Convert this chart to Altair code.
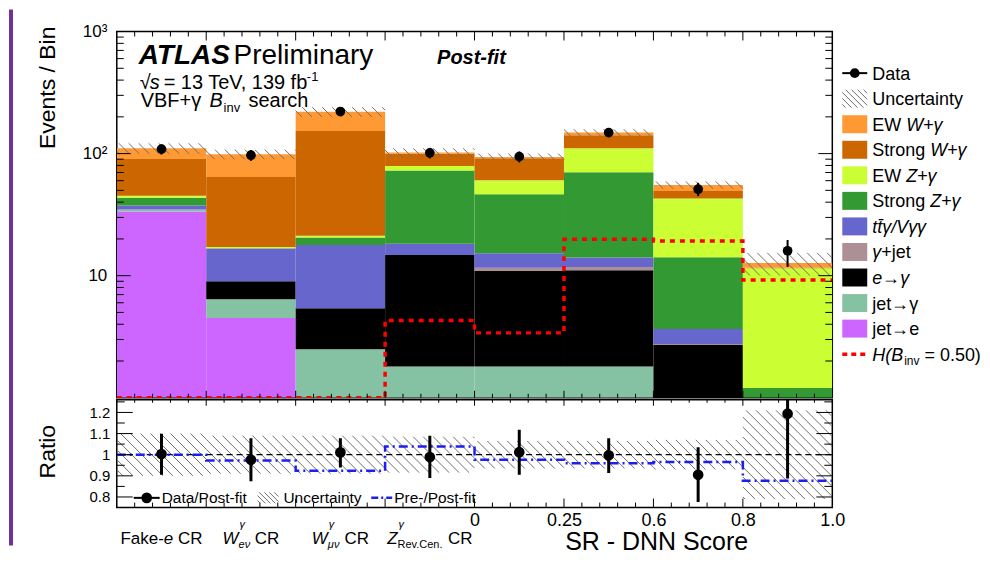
import math
import pandas as pd
import altair as alt

FONT = "Liberation Sans"

# ---------------- data ----------------
cr_names = ["Fake-e CR", "W_ev CR", "W_muv CR", "Z_RevCen CR"]
sr_tick_values = [4, 5, 6, 7, 8]
sr_tick_labels = ["0", "0.25", "0.6", "0.8", "1.0"]

# stack order: bottom -> top
process_names = ["jet→e", "jet→γ", "e→γ", "γ+jet", "tt̄γ/Vγγ",
                 "Strong Z+γ", "EW Z+γ", "Strong W+γ", "EW W+γ"]
process_colors = ["#CC66FF", "#85C1A3", "#000000", "#AD8F96", "#6666CC",
                  "#339933", "#CCFF33", "#CC6600", "#FF9933"]

jet_to_e   = [33.5, 4.5, 0.0, 0.0, 0.0, 0.0, 0.0, 0.0]
jet_to_gam = [1.1, 1.9, 2.5, 1.8, 1.8, 1.8, 0.0, 0.0]
e_to_gam   = [0.0, 2.6, 2.9, 13.0, 9.1, 9.3, 2.7, 0.0]
gam_jet    = [0.3, 0.0, 0.0, 0.0, 0.7, 0.7, 0.06, 0.0]
ttg_vgg    = [2.6, 7.7, 12.4, 3.5, 3.7, 2.3, 0.9, 0.0]
strong_zg  = [5.9, 0.1, 2.7, 54.3, 31.2, 56.3, 10.5, 1.2]
ew_zg      = [1.7, 0.4, 0.7, 6.7, 14.0, 40.3, 28.7, 10.3]
strong_wg  = [45.2, 47.1, 132.3, 20.2, 31.2, 30.8, 6.6, 0.1]
ew_wg      = [20.2, 34.5, 66.3, 2.4, 2.3, 7.1, 5.9, 1.1]
process_values = [jet_to_e, jet_to_gam, e_to_gam, gam_jet, ttg_vgg,
                  strong_zg, ew_zg, strong_wg, ew_wg]

data_events    = [108.7, 97.0, 221.0, 101.4, 94.4, 148.6, 51.1, 16.0]
data_events_lo = [98.3, 87.2, 206.1, 91.4, 84.7, 136.4, 44.9, 11.8]
data_events_hi = [119.1, 106.8, 235.9, 111.4, 104.1, 160.8, 57.6, 19.6]

signal_h050 = [1.0, 1.0, 1.0, 4.3, 3.4, 19.9, 19.2, 9.2]

ratio_data = [1.003, 0.976, 1.011, 0.989, 1.012, 0.997, 0.905, 1.194]
ratio_lo   = [0.905, 0.874, 0.940, 0.890, 0.905, 0.913, 0.776, 0.887]
ratio_hi   = [1.099, 1.078, 1.078, 1.090, 1.118, 1.078, 1.035, 1.500]
unc_rel    = [0.10, 0.09, 0.09, 0.085, 0.065, 0.065, 0.07, 0.21]
pre_post   = [1.000, 0.972, 0.924, 1.039, 0.976, 0.960, 0.965, 0.877]

# ---------------- layout constants ----------------
W, H, HR = 717, 367, 108
NB = 8
PXU = W / NB
YMIN, YMAX = 1.0, 1000.0
RMIN, RMAX = 0.75, 1.26
LMIN, LMAX = math.log10(YMIN), math.log10(YMAX)


def ymain_val(p):
    return 10 ** (LMAX - p / H * (LMAX - LMIN))


def ymain_pix(v):
    return H * (LMAX - math.log10(v)) / (LMAX - LMIN)


def yrat_val(p):
    return RMAX - p / HR * (RMAX - RMIN)


def yrat_pix(r):
    return (RMAX - r) / (RMAX - RMIN) * HR


def hatch_segments(x0, x1, y0, y1, step):
    out = []
    k0 = math.ceil((x0 - y1) / step)
    k1 = math.floor((x1 - y0) / step)
    for k in range(k0, k1 + 1):
        c = k * step
        a = max(x0, y0 + c)
        b = min(x1, y1 + c)
        if b - a > 0.8:
            out.append((a, a - c, b, b - c))
    return out


AW = {' ': 278, '!': 278, '(': 333, ')': 333, '+': 584, ',': 278, '-': 333, '.': 278,
      '/': 278, '=': 584, 'A': 667, 'B': 667, 'C': 722, 'D': 722, 'E': 667, 'F': 611,
      'H': 722, 'L': 556, 'N': 722, 'P': 667, 'R': 722, 'S': 667, 'T': 611, 'V': 667,
      'W': 944, 'Z': 611, 'a': 556, 'b': 556, 'c': 500, 'e': 556, 'f': 278, 'g': 556,
      'i': 222, 'j': 222, 'k': 500, 'l': 222, 'm': 833, 'n': 556, 'o': 556, 'r': 333,
      's': 500, 't': 278, 'u': 556, 'v': 500, 'y': 500, 'γ': 500, 'ν': 500, 'μ': 576,
      '\u0304': 0}


def tw(s, size):
    return sum(AW.get(ch, 556) for ch in s) * size / 1000.0


def lead_shift(s, size):
    # SVG drops leading spaces, so shift the text instead
    n = len(s) - len(s.lstrip(" "))
    return n * 0.278 * size, s.lstrip(" ")


# ---------------- scales / axes ----------------
xs = alt.Scale(domain=[0, NB], nice=False, zero=False)
ysm = alt.Scale(type="log", domain=[YMIN, YMAX], nice=False, clamp=True)
ysr = alt.Scale(domain=[RMIN, RMAX], nice=False, zero=False, clamp=True)

ax_my = alt.Axis(values=[10, 100, 1000],
                 labelExpr="datum.value < 50 ? '10' : (datum.value < 500 ? '10²' : '10³')",
                 ticks=False, tickSize=0, domain=False, grid=False, labelPadding=10,
                 labelFontSize=17, title=None, labelColor="black", labelFont=FONT)
lab_arr = "[" + ",".join("'" + s + "'" for s in sr_tick_labels) + "]"
ax_rx = alt.Axis(values=sr_tick_values,
                 labelExpr=lab_arr + "[round(datum.value) - 4]",
                 ticks=False, tickSize=0, domain=False, grid=False, labelPadding=4,
                 labelFontSize=18, title=None, labelFlush=False, labelOverlap=False,
                 labelColor="black", labelFont=FONT)
ax_ry = alt.Axis(values=[0.8, 0.9, 1.0, 1.1, 1.2],
                 labelExpr="abs(datum.value - 1) < 0.001 ? '1' : format(datum.value, '.1f')",
                 ticks=False, tickSize=0, domain=False, grid=False, labelPadding=7,
                 labelFontSize=15, title=None, labelColor="black", labelFont=FONT)


def MX(f):
    return alt.X(f, type="quantitative", scale=xs, axis=None)


def MY(f):
    return alt.Y(f, type="quantitative", scale=ysm, axis=ax_my)


def RX(f):
    return alt.X(f, type="quantitative", scale=xs, axis=ax_rx)


def RY(f):
    return alt.Y(f, type="quantitative", scale=ysr, axis=ax_ry)


def PXC(f):
    return alt.X(f, type="quantitative", scale=None)


def PYC(f):
    return alt.Y(f, type="quantitative", scale=None)


one = pd.DataFrame({"k": [0]})


def text_at(txt, x, y, size, style="normal", weight="normal", align="left",
            baseline="alphabetic", angle=0, color="black"):
    return alt.Chart(one).mark_text(
        text=txt, fontSize=size, fontStyle=style, fontWeight=weight, align=align,
        baseline=baseline, angle=angle, color=color, font=FONT
    ).encode(x=alt.value(x), y=alt.value(y))


def tick_rules_y(vals, ych, x0, x1):
    return alt.Chart(pd.DataFrame({"t": vals})).mark_rule(color="black", strokeWidth=1).encode(
        y=ych("t"), x=alt.value(x0), x2=alt.value(x1))


def tick_rules_x(vals, xch, y0, y1):
    return alt.Chart(pd.DataFrame({"t": vals})).mark_rule(color="black", strokeWidth=1).encode(
        x=xch("t"), y=alt.value(y0), y2=alt.value(y1))


# ---------------- derived tables ----------------
stack_rows = []
totals = []
for b in range(NB):
    cum = 0.0
    for name, vals in zip(process_names, process_values):
        lo = cum
        cum += vals[b]
        if vals[b] > 0:
            stack_rows.append(dict(x0=b, x1=b + 1, lo=max(lo, 0.5), hi=max(cum, 0.5), proc=name))
    totals.append(cum)
stack_df = pd.DataFrame(stack_rows)

hm_rows = []
hr_rows = []
for b in range(NB):
    X0, X1 = b * PXU, (b + 1) * PXU
    Y0 = ymain_pix(totals[b] * (1 + unc_rel[b]))
    Y1 = ymain_pix(totals[b] * (1 - unc_rel[b]))
    for a, pa, c, pc in hatch_segments(X0, X1, Y0, Y1, 10.0):
        hm_rows.append(dict(xa=a / PXU, ya=ymain_val(pa), xb=c / PXU, yb=ymain_val(pc)))
    Y0 = yrat_pix(1 + unc_rel[b])
    Y1 = yrat_pix(1 - unc_rel[b])
    for a, pa, c, pc in hatch_segments(X0, X1, Y0, Y1, 10.0):
        hr_rows.append(dict(xa=a / PXU, ya=yrat_val(pa), xb=c / PXU, yb=yrat_val(pc)))
hm_df = pd.DataFrame(hm_rows)
hr_df = pd.DataFrame(hr_rows)

edges = list(range(NB + 1))
h_df = pd.DataFrame({"e": edges, "h": signal_h050 + [signal_h050[-1]]})
pp_df = pd.DataFrame({"e": edges, "r": pre_post + [pre_post[-1]]})
pts_df = pd.DataFrame({"xc": [b + 0.5 for b in range(NB)], "v": data_events,
                       "lo": data_events_lo, "hi": data_events_hi,
                       "r": ratio_data, "rlo": ratio_lo, "rhi": ratio_hi})
one_df = pd.DataFrame({"x0": [0], "x1": [NB], "r": [1.0]})

x_major = [1, 2, 3, 4, 5, 6, 7]
x_minor = [b + j * 0.2 for b in range(NB) for j in range(1, 5)]
y_major = [10, 100]
y_minor = [m * 10 ** d for d in range(0, 3) for m in range(2, 10)]
r_major = [0.8, 0.9, 1.0, 1.1, 1.2]
r_minor = [0.85, 0.95, 1.05, 1.15, 1.25]

# ---------------- main panel ----------------
main_layers = []
main_layers.append(alt.Chart(stack_df).mark_rect(clip=True).encode(
    x=MX("x0"), x2="x1", y=MY("lo"), y2="hi",
    color=alt.Color("proc:N", scale=alt.Scale(domain=process_names, range=process_colors), legend=None)))
main_layers.append(alt.Chart(hm_df).mark_rule(color="#6E6E6E", strokeWidth=1, clip=True).encode(
    x=MX("xa"), y=MY("ya"), x2="xb", y2="yb"))
main_layers.append(alt.Chart(h_df).mark_line(interpolate="step-after", color="#FF0000",
                                             strokeDash=[5, 5], strokeWidth=3.5, clip=True).encode(
    x=MX("e"), y=MY("h")))
main_layers += [
    tick_rules_y(y_major, MY, 0, 14), tick_rules_y(y_minor, MY, 0, 7),
    tick_rules_y(y_major, MY, W, W - 14), tick_rules_y(y_minor, MY, W, W - 7),
    tick_rules_x(x_major, MX, 0, 9), tick_rules_x(x_minor, MX, 0, 5),
    tick_rules_x(x_major, MX, H, H - 7), tick_rules_x(x_minor, MX, H, H - 4),
]
main_layers.append(alt.Chart(pts_df).mark_rule(color="black", strokeWidth=2).encode(
    x=MX("xc"), y=MY("lo"), y2="hi"))
main_layers.append(alt.Chart(pts_df).mark_circle(size=95, color="black", opacity=1).encode(
    x=MX("xc"), y=MY("v")))

# texts in the plot
lumi_txt = "= 13 TeV, 139 fb"
main_layers += [
    text_at("ATLAS", 22, 33, 28, style="italic", weight="bold"),
    text_at("Preliminary", 117, 33, 28),
    text_at("Post-fit", 321, 33, 20, style="italic", weight="bold"),
    text_at("√", 23, 58, 20),
    text_at("s", 33, 58, 20, style="italic"),
    text_at(lumi_txt, 47, 58, 20),
    text_at("-1", 47 + tw(lumi_txt, 20) - 5, 50, 13),
    text_at("VBF+γ", 24, 76, 20),
    text_at("B", 93, 76, 20, style="italic"),
    text_at("inv", 107, 81, 13),
    text_at("search", 132, 76, 20),
    text_at("Events / Bin", -69, -5, 23, align="right", baseline="middle", angle=270),
]

# legend (pixel coordinates)
LS0, LS1, LLAB = 727, 752, 757
row_y = [41.7 + 25.6 * i for i in range(12)]
leg_labels = [
    [("Data", "n")],
    [("Uncertainty", "n")],
    [("EW ", "n"), ("W+γ", "i")],
    [("Strong ", "n"), ("W+γ", "i")],
    [("EW ", "n"), ("Z+γ", "i")],
    [("Strong ", "n"), ("Z+γ", "i")],
    [("tt̄γ/Vγγ", "i")],
    [("γ", "i"), ("+jet", "n")],
    [("e→γ", "i")],
    [("jet→γ", "n")],
    [("jet→e", "n")],
    [("H(B", "i"), ("inv", "sub"), (" = 0.50)", "n")],
]
lt_rows = []
for i, pieces in enumerate(leg_labels):
    x = LLAB
    for txt, kind in pieces:
        if kind == "sub":
            lt_rows.append(dict(px=x + 1, py=row_y[i] + 11, txt=txt, kind=kind))
            x += tw(txt, 12) + 1
        else:
            sh, t2 = lead_shift(txt, 18)
            lt_rows.append(dict(px=x + sh, py=row_y[i] + 6.5, txt=t2, kind=kind))
            x += tw(txt, 18)
lt_df = pd.DataFrame(lt_rows)
for kind, size, style in [("n", 18, "normal"), ("i", 18, "italic"), ("sub", 12, "normal")]:
    main_layers.append(alt.Chart(lt_df[lt_df.kind == kind]).mark_text(
        align="left", baseline="alphabetic", fontSize=size, fontStyle=style, font=FONT, color="black"
    ).encode(x=PXC("px"), y=PYC("py"), text="txt:N"))

sw_rows = []
for j, name in enumerate(reversed(process_names)):
    i = j + 2
    sw_rows.append(dict(px0=LS0, px1=LS1, py0=row_y[i] - 9, py1=row_y[i] + 9,
                        col=process_colors[len(process_names) - 1 - j]))
main_layers.append(alt.Chart(pd.DataFrame(sw_rows)).mark_rect().encode(
    x=PXC("px0"), x2="px1", y=PYC("py0"), y2="py1", color=alt.Color("col:N", scale=None)))
lh_df = pd.DataFrame([dict(a=a, pa=pa, b=c, pb=pc) for a, pa, c, pc in
                      hatch_segments(LS0, LS1, row_y[1] - 9, row_y[1] + 9, 6.0)])
main_layers.append(alt.Chart(lh_df).mark_rule(color="#6E6E6E", strokeWidth=1).encode(
    x=PXC("a"), y=PYC("pa"), x2="b", y2="pb"))
main_layers.append(alt.Chart(one).mark_rule(color="black", strokeWidth=2).encode(
    x=alt.value(LS0), x2=alt.value(LS1), y=alt.value(row_y[0])))
main_layers.append(alt.Chart(one).mark_circle(size=95, color="black", opacity=1).encode(
    x=alt.value((LS0 + LS1) / 2), y=alt.value(row_y[0])))
main_layers.append(alt.Chart(one).mark_rule(color="#FF0000", strokeWidth=3.5, strokeDash=[5, 4]).encode(
    x=alt.value(LS0), x2=alt.value(LS1), y=alt.value(row_y[11])))

# slide frame (left purple stripe)
main_layers.append(alt.Chart(one).mark_rect(color="#7030A0").encode(
    x=alt.value(-108), x2=alt.value(-104), y=alt.value(-22), y2=alt.value(515)))

main = alt.layer(*main_layers).properties(width=W, height=H)

# ---------------- ratio panel ----------------
rl = []
rl.append(alt.Chart(hr_df).mark_rule(color="#6E6E6E", strokeWidth=1, clip=True).encode(
    x=RX("xa"), y=RY("ya"), x2="xb", y2="yb"))
rl.append(alt.Chart(one_df).mark_rule(color="black", strokeWidth=1.2, strokeDash=[6, 4]).encode(
    x=RX("x0"), x2="x1", y=RY("r")))
rl.append(alt.Chart(pp_df).mark_line(interpolate="step-after", color="#1E1EF0",
                                     strokeDash=[9, 4, 2, 4], strokeWidth=2.5, clip=True).encode(
    x=RX("e"), y=RY("r")))
rl += [
    tick_rules_y(r_major, RY, 0, 16), tick_rules_y(r_minor, RY, 0, 8),
    tick_rules_y(r_major, RY, W, W - 16), tick_rules_y(r_minor, RY, W, W - 8),
    tick_rules_x(x_major, RX, 0, 6), tick_rules_x(x_minor, RX, 0, 3),
    tick_rules_x(x_major, RX, HR, HR - 9), tick_rules_x(x_minor, RX, HR, HR - 5),
]
rl.append(alt.Chart(pts_df).mark_rule(color="black", strokeWidth=3, clip=True).encode(
    x=RX("xc"), y=RY("rlo"), y2="rhi"))
rl.append(alt.Chart(pts_df).mark_circle(size=115, color="black", opacity=1).encode(
    x=RX("xc"), y=RY("r")))

# ratio legend
RLY = 98.3
rl.append(alt.Chart(one).mark_rule(color="black", strokeWidth=2).encode(
    x=alt.value(17), x2=alt.value(43), y=alt.value(RLY)))
rl.append(alt.Chart(one).mark_circle(size=115, color="black", opacity=1).encode(
    x=alt.value(30), y=alt.value(RLY)))
rh_df = pd.DataFrame([dict(a=a, pa=pa, b=c, pb=pc) for a, pa, c, pc in
                      hatch_segments(141, 162, RLY - 5.5, RLY + 5.5, 5.0)])
rl.append(alt.Chart(rh_df).mark_rule(color="#6E6E6E", strokeWidth=1).encode(
    x=PXC("a"), y=PYC("pa"), x2="b", y2="pb"))
rl.append(alt.Chart(one).mark_rule(color="#1E1EF0", strokeWidth=2.5, strokeDash=[7, 3, 2, 3]).encode(
    x=alt.value(255), x2=alt.value(276), y=alt.value(RLY)))
rl += [
    text_at("Data/Post-fit", 45, RLY + 5.5, 15.5),
    text_at("Uncertainty", 167, RLY + 5.5, 15.5),
    text_at("Pre-/Post-fit", 278, RLY + 5.5, 15.5),
]

# category labels below the control-region bins
cat_pieces = [
    [("Fake-", "n"), ("e", "i"), (" CR", "n")],
    [("W", "i"), ("γ", "sup"), ("eν", "subi"), (" CR", "n")],
    [("W", "i"), ("γ", "sup"), ("μν", "subi"), (" CR", "n")],
    [("Z", "i"), ("γ", "sup"), ("Rev.Cen.", "sub"), (" CR", "n")],
]
CS, SS = 17, 11
CB = 145
for b, pieces in enumerate(cat_pieces):
    total = sum(tw(t, SS if k in ("sub", "subi") else CS) for t, k in pieces if k != "sup")
    x = (b + 0.5) * PXU - total / 2
    for t, k in pieces:
        if k == "sup":
            rl.append(text_at(t, x + 1, CB - 16, SS, style="italic"))
        elif k in ("sub", "subi"):
            rl.append(text_at(t, x, CB + 4, SS, style="italic" if k == "subi" else "normal"))
            x += tw(t, SS)
        else:
            sh, t2 = lead_shift(t, CS)
            rl.append(text_at(t2, x + sh, CB, CS, style="italic" if k == "i" else "normal"))
            x += tw(t, CS)

rl.append(text_at("SR - DNN Score", 541, 151, 25, align="center"))
rl.append(text_at("Ratio", -69, 52, 23, align="center", baseline="middle", angle=270))

ratio = alt.layer(*rl).properties(width=W, height=HR)

chart = alt.vconcat(main, ratio, spacing=2, bounds="flush").properties(
    padding=0
).configure(font=FONT).configure_view(stroke="black", strokeWidth=1.5)

chart.save("out.html", embed_options={"renderer": "svg", "actions": False})
